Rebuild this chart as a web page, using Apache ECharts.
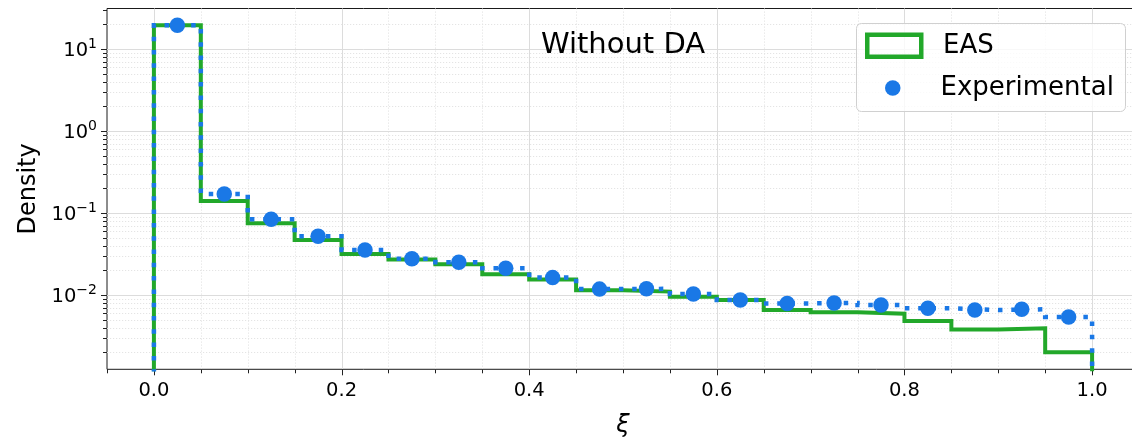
<!DOCTYPE html>
<html><head><meta charset="utf-8">
<script src="https://cdn.jsdelivr.net/npm/echarts@6/dist/echarts.min.js"></script>
<style>html,body{margin:0;padding:0;background:#fff}#c{width:1132px;height:441px}</style>
</head><body><div id="c"></div>
<script>
// ---- data ----
const binEdges = [0, 0.05, 0.1, 0.15, 0.2, 0.25, 0.3, 0.35, 0.4, 0.45, 0.5, 0.55, 0.6, 0.65, 0.7, 0.75, 0.8, 0.85, 0.9, 0.95, 1.0];
const easDensity = [19.55, 0.14, 0.075, 0.047, 0.0316, 0.0272, 0.0237, 0.0179, 0.0155, 0.0114, 0.011, 0.0095, 0.0087, 0.00656, 0.00615, 0.00592, 0.00482, 0.00381, 0.00392, 0.0020];
const expDensity = [19.48, 0.171, 0.084, 0.052, 0.0354, 0.0277, 0.0251, 0.0212, 0.0163, 0.0118, 0.0119, 0.0103, 0.0087, 0.0079, 0.0080, 0.00755, 0.00689, 0.00656, 0.0067, 0.0054];
const xMajorTicks = [0, 0.2, 0.4, 0.6, 0.8, 1.0];
const xMinorTicks = [-0.05, 0.05, 0.1, 0.15, 0.25, 0.3, 0.35, 0.45, 0.5, 0.55, 0.65, 0.7, 0.75, 0.85, 0.9, 0.95, 1.05];
const yMajorTicks = [0.01, 0.1, 1, 10];
const yMinorTicks = [0.002, 0.003, 0.004, 0.005, 0.006, 0.007, 0.008, 0.009,
  0.02, 0.03, 0.04, 0.05, 0.06, 0.07, 0.08, 0.09,
  0.2, 0.3, 0.4, 0.5, 0.6, 0.7, 0.8, 0.9,
  2, 3, 4, 5, 6, 7, 8, 9, 20, 30];
const seriesNames = ['EAS', 'Experimental'];
const titleText = 'Without DA';
const xLabel = 'ξ';
const yLabel = 'Density';

// ---- style ----
const FONT = 'DejaVu Sans';
const GREEN = '#22a82a';
const BLUE = '#1a78e6';
const X_MIN = -0.05, X_MAX = 1.05;
const Y_MIN = 0.001242, Y_MAX = 31.19;
const BASE = Y_MIN / 100;

function stepPoints(edges, vals) {
  const pts = [[edges[0], BASE]];
  for (let i = 0; i < vals.length; i++) {
    pts.push([edges[i], vals[i]]);
    pts.push([edges[i + 1], vals[i]]);
  }
  pts.push([edges[edges.length - 1], BASE]);
  return pts;
}
const centers = easDensity.map((_, i) => (binEdges[i] + binEdges[i + 1]) / 2);

const decor = [];
xMajorTicks.forEach(v => decor.push([v, Y_MIN, 0]));
xMinorTicks.forEach(v => decor.push([v, Y_MIN, 1]));
yMajorTicks.forEach(v => decor.push([X_MIN, v, 2]));
yMinorTicks.forEach(v => decor.push([X_MIN, v, 3]));

const majorGrid = { stroke: '#dcdcdc', lineWidth: 1 };
const minorGrid = { stroke: '#e4e4e4', lineWidth: 1, lineDash: [1.2, 1.8] };
const tickStyle = { stroke: '#222', lineWidth: 1 };

const chart = echarts.init(document.getElementById('c'), null, { renderer: 'canvas' });
chart.setOption({
  animation: false,
  backgroundColor: '#fff',
  textStyle: { fontFamily: FONT },
  grid: { left: 107, width: 1032, top: 8.5, height: 360.8, show: true, borderColor: '#1a1a1a', borderWidth: 1, backgroundColor: 'transparent', containLabel: false, outerBoundsMode: 'none' },
  xAxis: {
    type: 'value', min: X_MIN, max: X_MAX, interval: 0.05,
    axisLine: { show: false }, axisTick: { show: false }, splitLine: { show: false },
    axisLabel: {
      color: '#000', fontSize: 19.5, fontFamily: FONT, margin: 12,
      formatter: v => { const k = Math.round(v * 100); return (k >= 0 && k <= 100 && k % 20 === 0) ? (k / 100).toFixed(1) : ''; }
    },
    name: xLabel, nameLocation: 'middle', nameGap: 44,
    nameTextStyle: { color: '#000', fontSize: 24, fontStyle: 'italic', fontFamily: FONT }
  },
  yAxis: {
    type: 'log', logBase: 10, min: Y_MIN, max: Y_MAX,
    axisLine: { show: false }, axisTick: { show: false }, splitLine: { show: false }, minorSplitLine: { show: false },
    axisLabel: {
      color: '#000', margin: 10,
      formatter: v => {
        const e = Math.log10(v); const r = Math.round(e);
        if (Math.abs(e - r) > 1e-6) return '';
        return '{b|10}{s|' + (r < 0 ? '\u2212' + (-r) : r) + '}';
      },
      rich: {
        b: { fontSize: 19.5, fontFamily: FONT, color: '#000', lineHeight: 24, padding: [4, 0, 0, 0], verticalAlign: 'bottom' },
        s: { fontSize: 14, fontFamily: FONT, color: '#000', lineHeight: 18, verticalAlign: 'top' }
      }
    },
    name: yLabel, nameLocation: 'middle', nameGap: 59,
    nameTextStyle: { color: '#000', fontSize: 24, fontFamily: FONT }
  },
  legend: [
    {
      left: 865, top: 32.5, orient: 'vertical', padding: 0, itemGap: 0, selectedMode: false,
      itemWidth: 54, itemHeight: 22,
      textStyle: { fontSize: 26, color: '#000', fontFamily: FONT, padding: [0, 0, 0, 16.7] },
      data: [{ name: seriesNames[0], icon: 'rect', itemStyle: { color: 'rgba(0,0,0,0)', borderColor: GREEN, borderWidth: 4.5 } }]
    },
    {
      left: 885, top: 75, orient: 'vertical', padding: 0, itemGap: 0, selectedMode: false,
      itemWidth: 15.5, itemHeight: 15.5,
      textStyle: { fontSize: 26, color: '#000', fontFamily: FONT, padding: [0, 0, 0, 35] },
      data: [{ name: seriesNames[1], icon: 'circle' }]
    }
  ],
  graphic: [
    { type: 'rect', z: 2, shape: { x: 856.5, y: 23.5, width: 269, height: 88, r: 5 }, style: { fill: 'rgba(255,255,255,0.8)', stroke: '#d0d0d0', lineWidth: 1 } },
    { type: 'text', z: 2, x: 623, y: 45, style: { text: titleText, font: '29px "DejaVu Sans"', fill: '#000', textAlign: 'center', textVerticalAlign: 'middle' } }
  ],
  series: [
    {
      type: 'custom', name: '_decor', z: 1, silent: true, clip: false,
      dimensions: ['x', 'y', 'k'], encode: { x: 0, y: 1 },
      data: decor,
      renderItem: (params, api) => {
        const cs = params.coordSys;
        const L = cs.x, T = cs.y, R = cs.x + cs.width, B = cs.y + cs.height;
        const k = api.value(2);
        const p = api.coord([api.value(0), api.value(1)]);
        const ch = [];
        if (k < 2) {
          const x = Math.round(p[0]) + 0.5;
          const major = k === 0;
          if (x > L + 2 && x < R - 2) ch.push({ type: 'line', shape: { x1: x, y1: T, x2: x, y2: B }, style: major ? majorGrid : minorGrid });
          ch.push({ type: 'line', shape: { x1: x, y1: B, x2: x, y2: B + (major ? 6 : 4) }, style: tickStyle });
        } else {
          const y = Math.round(p[1]) + 0.5;
          const major = k === 2;
          if (y > T + 2 && y < B - 2) ch.push({ type: 'line', shape: { x1: L, y1: y, x2: R, y2: y }, style: major ? majorGrid : minorGrid });
          ch.push({ type: 'line', shape: { x1: L - (major ? 6 : 4), y1: y, x2: L, y2: y }, style: tickStyle });
        }
        return { type: 'group', children: ch };
      }
    },
    {
      type: 'line', name: seriesNames[0], z: 3, symbol: 'none', clip: true,
      data: stepPoints(binEdges, easDensity),
      lineStyle: { color: GREEN, width: 4, join: 'miter', cap: 'butt' },
      itemStyle: { color: GREEN }
    },
    {
      type: 'line', name: '_expHist', z: 4, symbol: 'none', clip: true,
      data: stepPoints(binEdges, expDensity),
      lineStyle: { color: BLUE, width: 4.5, type: [4.5, 8.8], cap: 'butt', join: 'miter' },
      itemStyle: { color: BLUE }
    },
    {
      type: 'scatter', name: seriesNames[1], z: 5, symbol: 'circle', symbolSize: 15.5,
      data: centers.map((c, i) => [c, expDensity[i]]),
      itemStyle: { color: BLUE, opacity: 1 }
    }
  ]
});
</script></body></html>
